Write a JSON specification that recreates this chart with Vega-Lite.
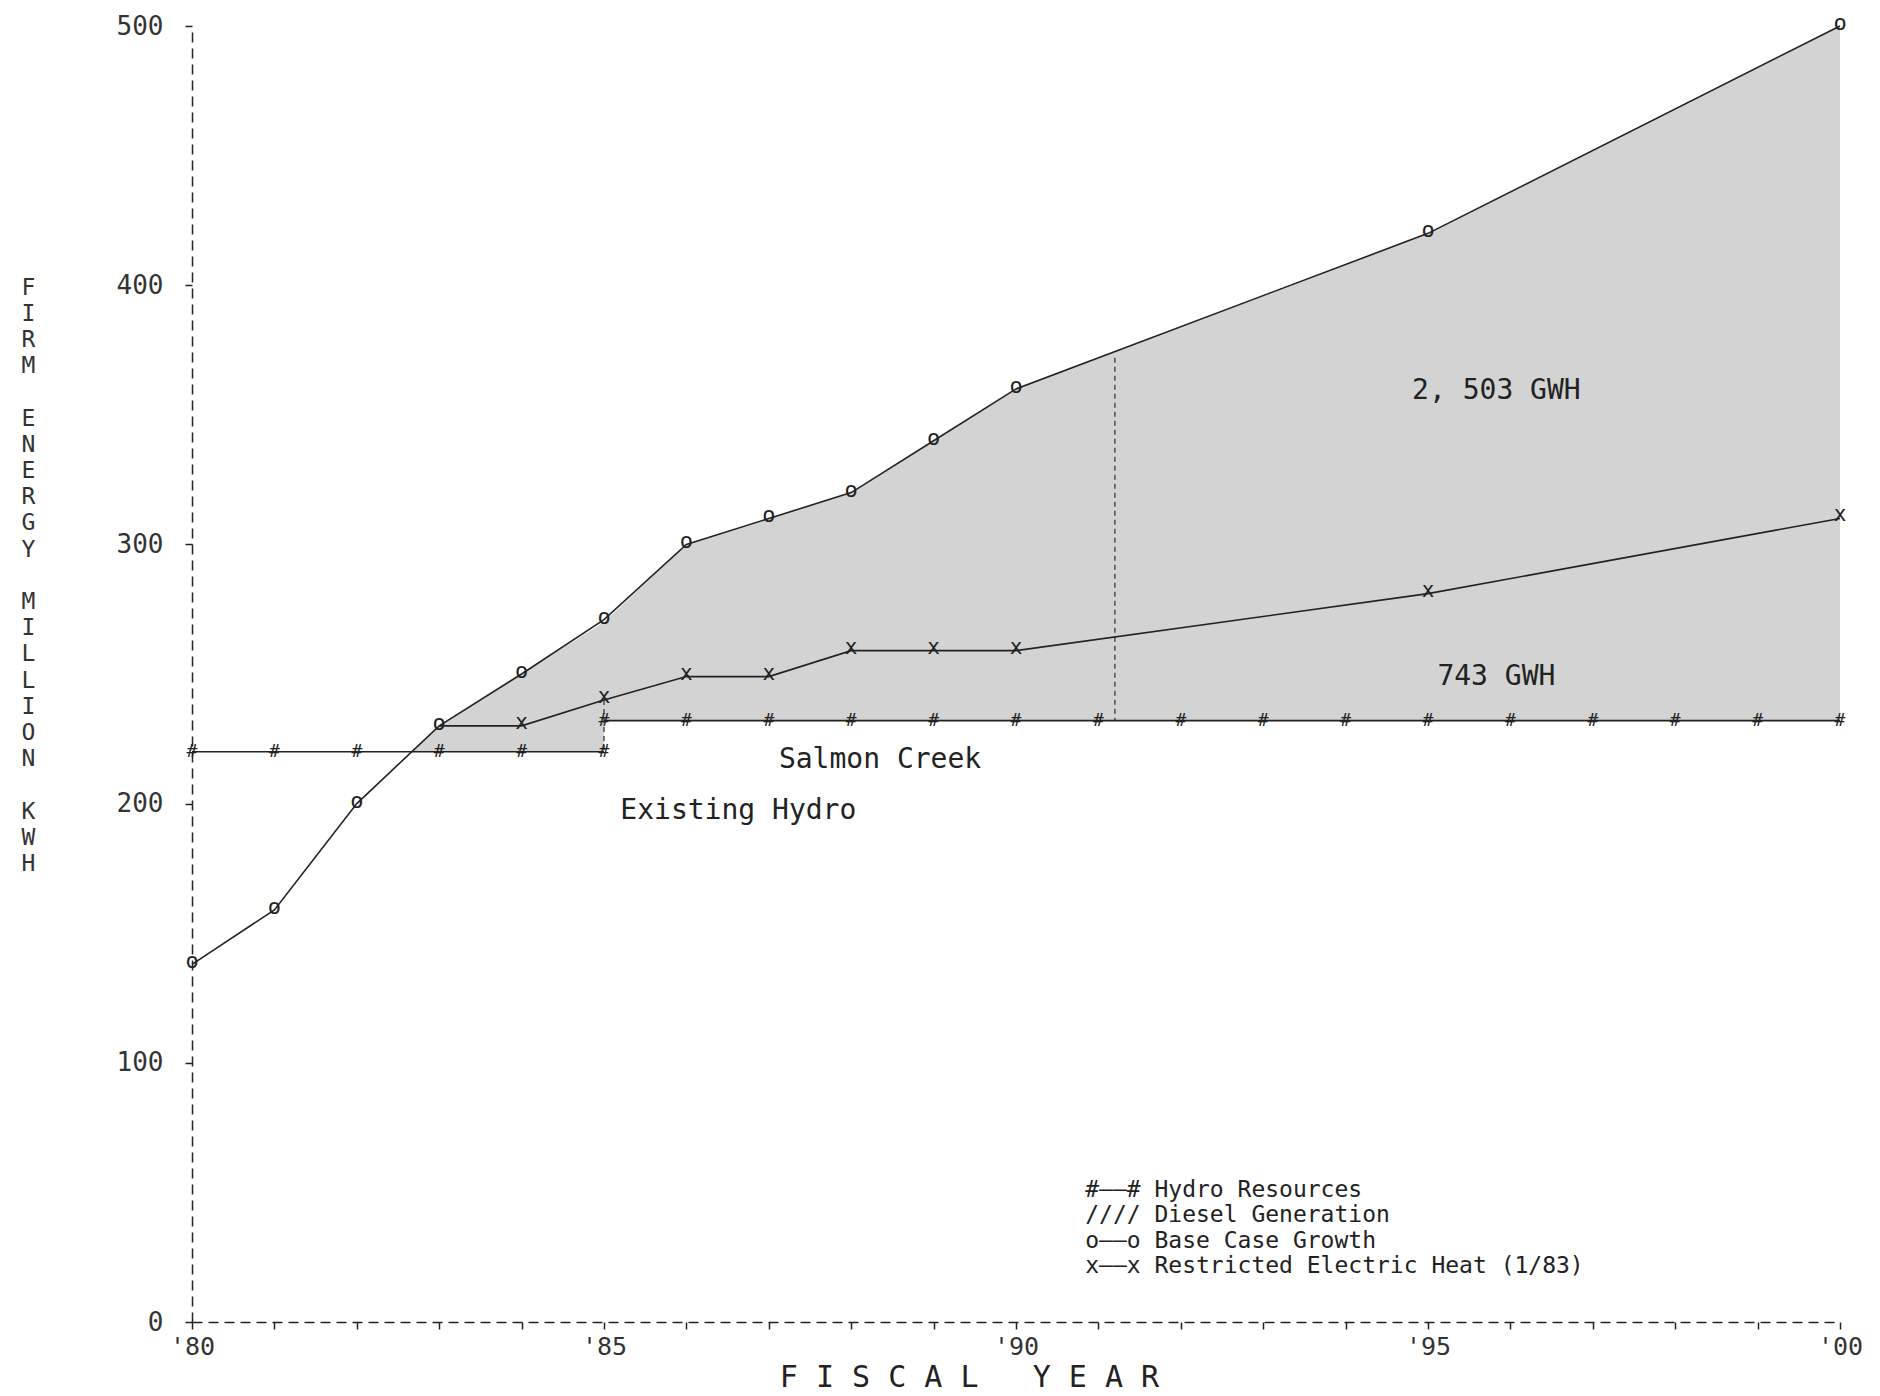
{
  "$schema": "https://vega.github.io/schema/vega-lite/v6.json",
  "width": 1648,
  "height": 1296,
  "autosize": {"type": "none"},
  "padding": {"left": 192, "top": 26, "right": 40, "bottom": 74},
  "background": "white",
  "config": {"view": {"stroke": null}, "font": "DejaVu Sans Mono"},
  "datasets": {
    "diesel": [
      {"year": 1982.67, "lo": 220, "value": 220},
      {"year": 1983, "lo": 220, "value": 230},
      {"year": 1984, "lo": 220, "value": 250},
      {"year": 1985, "lo": 220, "value": 270},
      {"year": 1985, "lo": 232, "value": 270},
      {"year": 1986, "lo": 232, "value": 300},
      {"year": 1987, "lo": 232, "value": 310},
      {"year": 1988, "lo": 232, "value": 320},
      {"year": 1989, "lo": 232, "value": 340},
      {"year": 1990, "lo": 232, "value": 360},
      {"year": 1995, "lo": 232, "value": 420},
      {"year": 2000, "lo": 232, "value": 500}
    ],
    "base": [
      {"year": 1980, "value": 138},
      {"year": 1981, "value": 159},
      {"year": 1982, "value": 200},
      {"year": 1983, "value": 230},
      {"year": 1984, "value": 250},
      {"year": 1985, "value": 271},
      {"year": 1986, "value": 300},
      {"year": 1987, "value": 310},
      {"year": 1988, "value": 320},
      {"year": 1989, "value": 340},
      {"year": 1990, "value": 360},
      {"year": 1995, "value": 420},
      {"year": 2000, "value": 500}
    ],
    "restricted": [
      {"year": 1983, "value": 230},
      {"year": 1984, "value": 230},
      {"year": 1985, "value": 240},
      {"year": 1986, "value": 249},
      {"year": 1987, "value": 249},
      {"year": 1988, "value": 259},
      {"year": 1989, "value": 259},
      {"year": 1990, "value": 259},
      {"year": 1995, "value": 281},
      {"year": 2000, "value": 310}
    ],
    "hydro": [
      {"year": 1980, "value": 220, "seg": "Existing Hydro"},
      {"year": 1981, "value": 220, "seg": "Existing Hydro"},
      {"year": 1982, "value": 220, "seg": "Existing Hydro"},
      {"year": 1983, "value": 220, "seg": "Existing Hydro"},
      {"year": 1984, "value": 220, "seg": "Existing Hydro"},
      {"year": 1985, "value": 220, "seg": "Existing Hydro"},
      {"year": 1985, "value": 232, "seg": "Salmon Creek"},
      {"year": 1986, "value": 232, "seg": "Salmon Creek"},
      {"year": 1987, "value": 232, "seg": "Salmon Creek"},
      {"year": 1988, "value": 232, "seg": "Salmon Creek"},
      {"year": 1989, "value": 232, "seg": "Salmon Creek"},
      {"year": 1990, "value": 232, "seg": "Salmon Creek"},
      {"year": 1991, "value": 232, "seg": "Salmon Creek"},
      {"year": 1992, "value": 232, "seg": "Salmon Creek"},
      {"year": 1993, "value": 232, "seg": "Salmon Creek"},
      {"year": 1994, "value": 232, "seg": "Salmon Creek"},
      {"year": 1995, "value": 232, "seg": "Salmon Creek"},
      {"year": 1996, "value": 232, "seg": "Salmon Creek"},
      {"year": 1997, "value": 232, "seg": "Salmon Creek"},
      {"year": 1998, "value": 232, "seg": "Salmon Creek"},
      {"year": 1999, "value": 232, "seg": "Salmon Creek"},
      {"year": 2000, "value": 232, "seg": "Salmon Creek"}
    ],
    "rules": [
      {"year": 1985, "lo": 220, "value": 240},
      {"year": 1991.2, "lo": 232, "value": 372}
    ],
    "notes": [
      {"year": 1988.35, "value": 217, "label": "Salmon Creek"},
      {"year": 1986.63, "value": 197, "label": "Existing Hydro"},
      {"year": 1995.83, "value": 359, "label": "2, 503 GWH"},
      {"year": 1995.83, "value": 249, "label": "743 GWH"}
    ],
    "legend": [
      {"year": 1990.84, "value": 51, "label": "#——# Hydro Resources"},
      {"year": 1990.84, "value": 41.3, "label": "//// Diesel Generation"},
      {"year": 1990.84, "value": 31.3, "label": "o——o Base Case Growth"},
      {"year": 1990.84, "value": 21.6, "label": "x——x Restricted Electric Heat (1/83)"}
    ]
  },
  "encoding": {
    "x": {
      "field": "year",
      "type": "quantitative",
      "scale": {"domain": [1980, 2000], "nice": false, "zero": false},
      "axis": {
        "values": [1980,1981,1982,1983,1984,1985,1986,1987,1988,1989,1990,1991,1992,1993,1994,1995,1996,1997,1998,1999,2000],
        "labelExpr": "datum.value % 5 === 0 ? \"'\" + slice(toString(datum.value), 2) : ''",
        "grid": false,
        "domainColor": "#222",
        "domainDash": [10, 6],
        "domainWidth": 1.5,
        "tickColor": "#222",
        "tickSize": 7,
        "tickWidth": 1.5,
        "labelFont": "DejaVu Sans Mono",
        "labelFontSize": 25,
        "labelColor": "#333",
        "labelPadding": 5,
        "labelFlush": false,
        "labelOverlap": false,
        "title": "F I S C A L\u00a0\u00a0 Y E A R",
        "titleFont": "DejaVu Sans Mono",
        "titleFontSize": 30,
        "titleFontWeight": "normal",
        "titleColor": "#222",
        "titleX": 777,
        "titleY": 55,
        "titleAlign": "center",
        "titleBaseline": "middle"
      }
    },
    "y": {
      "field": "value",
      "type": "quantitative",
      "scale": {"domain": [0, 500], "nice": false, "zero": true},
      "axis": {
        "values": [0, 100, 200, 300, 400, 500],
        "grid": false,
        "domainColor": "#222",
        "domainDash": [10, 6],
        "domainWidth": 1.5,
        "tickColor": "#222",
        "tickSize": 7,
        "tickWidth": 1.5,
        "labelFont": "DejaVu Sans Mono",
        "labelFontSize": 26,
        "labelColor": "#333",
        "labelPadding": 22,
        "labelFlush": false,
        "labelOverlap": false,
        "title": ["F","I","R","M","\u200b","E","N","E","R","G","Y","\u200b","M","I","L","L","I","O","N","\u200b","K","W","H"],
        "titleFont": "DejaVu Sans Mono",
        "titleFontSize": 23,
        "titleFontWeight": "normal",
        "titleColor": "#333",
        "titleAngle": 0,
        "titleX": -164,
        "titleY": 250,
        "titleAlign": "center",
        "titleBaseline": "top",
        "titleLineHeight": 26.2
      }
    }
  },
  "layer": [
    {
      "data": {"name": "diesel"},
      "mark": {"type": "area", "color": "#d3d3d3", "opacity": 1},
      "encoding": {"y2": {"field": "lo"}}
    },
    {
      "data": {"name": "rules"},
      "mark": {"type": "rule", "color": "#444", "strokeDash": [5, 4], "strokeWidth": 1.4},
      "encoding": {"y2": {"field": "lo"}}
    },
    {
      "data": {"name": "hydro"},
      "mark": {"type": "line", "color": "#222", "strokeWidth": 1.6},
      "encoding": {"detail": {"field": "seg"}}
    },
    {
      "data": {"name": "hydro"},
      "mark": {"type": "text", "text": "#", "fontSize": 18, "color": "#222", "align": "center", "baseline": "middle", "font": "DejaVu Sans Mono"}
    },
    {
      "data": {"name": "base"},
      "mark": {"type": "line", "color": "#222", "strokeWidth": 1.6}
    },
    {
      "data": {"name": "base"},
      "mark": {"type": "text", "text": "o", "fontSize": 22, "color": "#222", "align": "center", "baseline": "middle", "dy": -3, "font": "DejaVu Sans Mono"}
    },
    {
      "data": {"name": "restricted"},
      "mark": {"type": "line", "color": "#222", "strokeWidth": 1.6}
    },
    {
      "data": {"name": "restricted"},
      "transform": [{"filter": "datum.year > 1983"}],
      "mark": {"type": "text", "text": "x", "fontSize": 21, "color": "#222", "align": "center", "baseline": "middle", "dy": -3, "font": "DejaVu Sans Mono"}
    },
    {
      "data": {"name": "notes"},
      "mark": {"type": "text", "fontSize": 28, "color": "#222", "align": "center", "baseline": "middle", "font": "DejaVu Sans Mono"},
      "encoding": {"text": {"field": "label"}}
    },
    {
      "data": {"name": "legend"},
      "mark": {"type": "text", "fontSize": 23, "color": "#222", "align": "left", "baseline": "middle", "font": "DejaVu Sans Mono"},
      "encoding": {"text": {"field": "label"}}
    }
  ]
}
